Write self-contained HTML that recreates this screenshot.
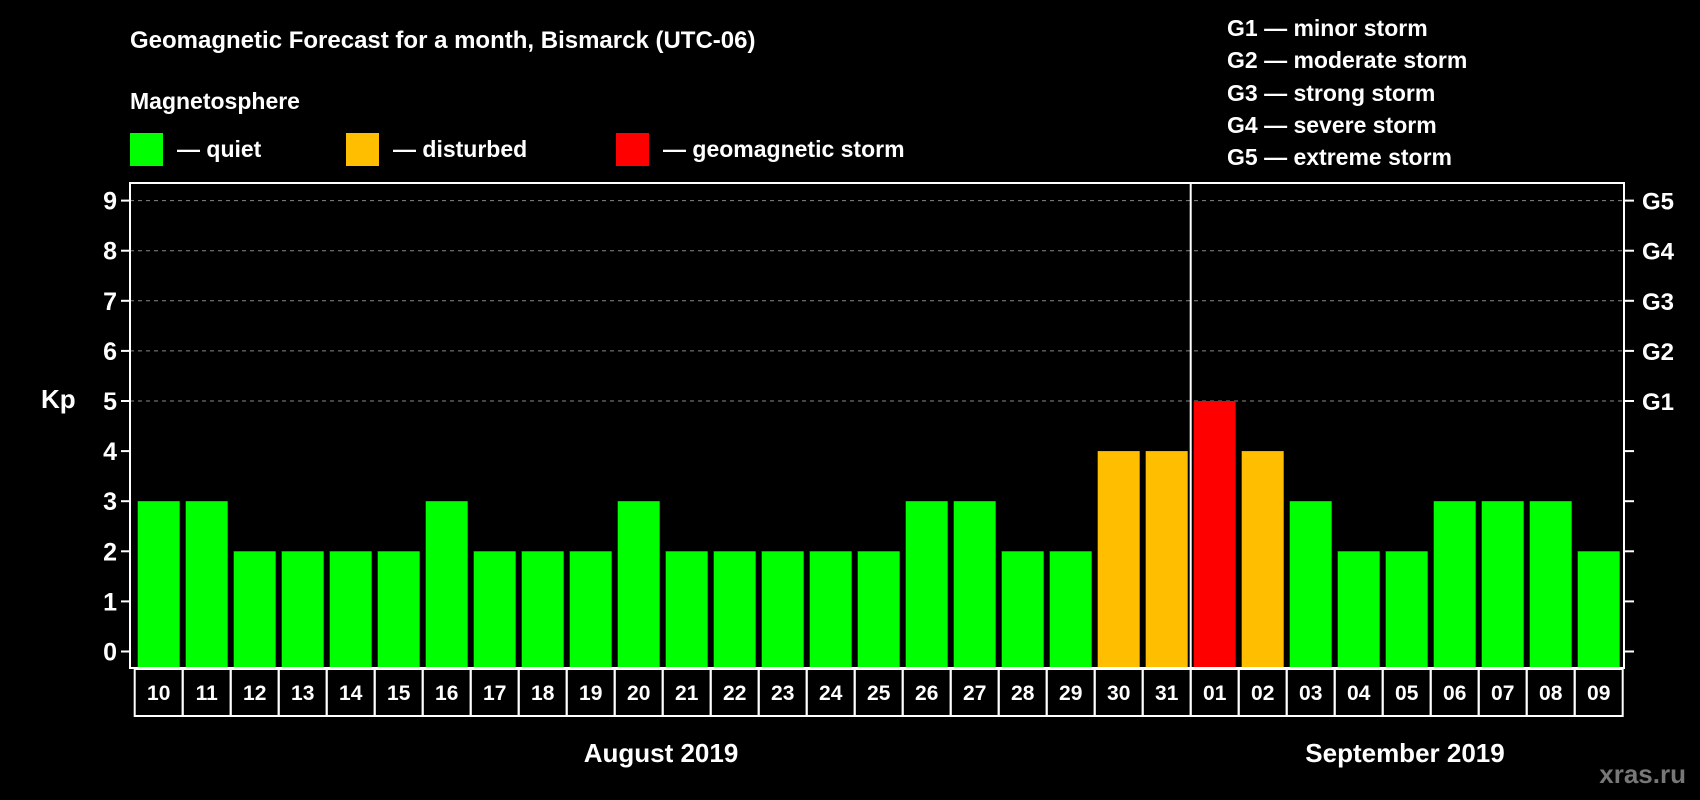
<!DOCTYPE html>
<html><head><meta charset="utf-8">
<style>
html,body{margin:0;padding:0;background:#000;}
svg{display:block;font-family:"Liberation Sans",Arial,sans-serif;font-weight:bold;}
</style></head>
<body>
<svg id="chart" width="1700" height="800" viewBox="0 0 1700 800">
<rect x="0" y="0" width="1700" height="800" fill="#000"/>
<text x="130" y="48" fill="#fff" font-size="24">Geomagnetic Forecast for a month, Bismarck (UTC-06)</text>
<text x="130" y="109" fill="#fff" font-size="23">Magnetosphere</text>
<g>
<rect x="130" y="133" width="33" height="33" fill="#00ff00"/>
<text x="177" y="157" fill="#fff" font-size="23">— quiet</text>
<rect x="346" y="133" width="33" height="33" fill="#ffbf00"/>
<text x="393" y="157" fill="#fff" font-size="23">— disturbed</text>
<rect x="616" y="133" width="33" height="33" fill="#ff0000"/>
<text x="663" y="157" fill="#fff" font-size="23">— geomagnetic storm</text>
</g>
<g fill="#fff" font-size="23">
<text x="1227" y="36">G1 — minor storm</text>
<text x="1227" y="68">G2 — moderate storm</text>
<text x="1227" y="101">G3 — strong storm</text>
<text x="1227" y="133">G4 — severe storm</text>
<text x="1227" y="165">G5 — extreme storm</text>
</g>
<text x="41" y="408" fill="#fff" font-size="26">Kp</text>
<g id="grid"></g>
<g id="bars"></g>
<g id="axes"></g>
<text x="661" y="762" fill="#fff" font-size="26" text-anchor="middle">August 2019</text>
<text x="1405" y="762" fill="#fff" font-size="26" text-anchor="middle">September 2019</text>
<text x="1686" y="783" fill="#777" font-size="26" text-anchor="end">xras.ru</text>
</svg>
<script>
const days = ["10","11","12","13","14","15","16","17","18","19","20","21","22","23","24","25","26","27","28","29","30","31","01","02","03","04","05","06","07","08","09"];
const kpValues = [3,3,2,2,2,2,3,2,2,2,3,2,2,2,2,2,3,3,2,2,4,4,5,4,3,2,2,3,3,3,2];
const yTicks = [0,1,2,3,4,5,6,7,8,9];
const gLabels = ["G1","G2","G3","G4","G5"];
const gLevels = [5,6,7,8,9];
const monthBreakIndex = 22;

const NS = "http://www.w3.org/2000/svg";
const plotL = 130, plotR = 1624, plotT = 183, plotB = 668;
const y0 = 651.5, unit = 50.1;
const x0 = 137.7, pitch = 48, barW = 42;
function yScale(v){ return y0 - v*unit; }
function xScale(i){ return x0 + i*pitch; }
function mk(tag, attrs, parent){
  const e = document.createElementNS(NS, tag);
  for (const k in attrs) e.setAttribute(k, attrs[k]);
  parent.appendChild(e);
  return e;
}
const grid = document.getElementById('grid');
const bars = document.getElementById('bars');
const axes = document.getElementById('axes');

gLevels.forEach((lv, i) => {
  const l = mk('line', {x1: plotL, x2: plotR, y1: yScale(lv), y2: yScale(lv), stroke: '#888', 'stroke-dasharray': '4 4', 'stroke-width': 1}, grid);
  
  
  const t = mk('text', {x: 1642, y: yScale(lv) + 9, fill: '#fff', 'font-size': 24}, axes);
  t.textContent = gLabels[i];
  
  
});

kpValues.forEach((v, i) => {
  const color = v >= 5 ? '#ff0000' : (v >= 4 ? '#ffbf00' : '#00ff00');
  const r = mk('rect', {x: xScale(i), y: yScale(v), width: barW, height: plotB - yScale(v), fill: color}, bars);
  
  
  const c = mk('rect', {x: xScale(i) - 3, y: 669, width: pitch, height: 47, fill: 'none', stroke: '#fff', 'stroke-width': 2}, axes);
  
  
  const t = mk('text', {x: xScale(i) + barW/2, y: 700, fill: '#fff', 'font-size': 21, 'text-anchor': 'middle'}, axes);
  t.textContent = days[i];
  
  
});

const frame = mk('rect', {x: plotL, y: plotT, width: plotR - plotL, height: plotB - plotT, fill: 'none', stroke: '#fff', 'stroke-width': 2}, axes);



const bx = xScale(monthBreakIndex) - 3;
const br = mk('line', {x1: bx, x2: bx, y1: plotT, y2: plotB, stroke: '#fff', 'stroke-width': 2}, axes);



yTicks.forEach(v => {
  const y = yScale(v);
  const tl = mk('line', {x1: plotL - 9, x2: plotL, y1: y, y2: y, stroke: '#fff', 'stroke-width': 2}, axes);
  
  
  const tr = mk('line', {x1: plotR, x2: plotR + 10, y1: y, y2: y, stroke: '#fff', 'stroke-width': 2}, axes);
  
  
  const t = mk('text', {x: 117, y: y + 9, fill: '#fff', 'font-size': 25, 'text-anchor': 'end'}, axes);
  t.textContent = v;
  
  
});
</script>
</body></html>
